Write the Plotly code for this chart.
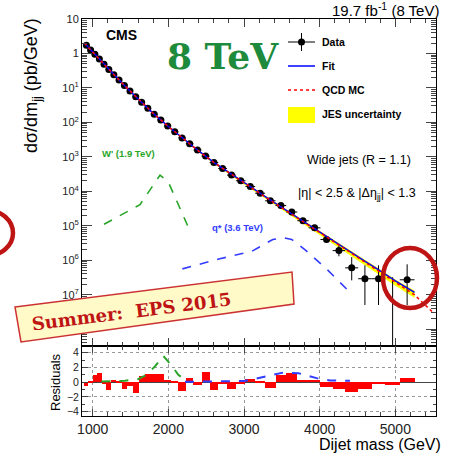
import plotly.graph_objects as go

# ---------------- data ----------------
bin_edges = [890, 944, 1000, 1058, 1118, 1181, 1246, 1313, 1383, 1455, 1530, 1607, 1687,
             1770, 1856, 1945, 2037, 2132, 2231, 2332, 2438, 2546, 2659, 2775, 2895, 3019,
             3147, 3279, 3416, 3558, 3704, 3854, 4010, 4171, 4337, 4509, 4686, 4869, 5058, 5253]

data_val = [1.72, 1.27, 0.95, 0.69, 0.485, 0.344, 0.243, 0.170, 0.1168, 0.0810, 0.0555, 0.0383,
            0.0258, 0.01725, 0.01175, 0.00789, 0.00533, 0.00354, 0.00239, 0.00157, 0.00105,
            6.8e-4, 4.6e-4, 2.95e-4, 2.02e-4, 1.37e-4, 8.8e-5, 5.3e-5, 3.85e-5, 2.5e-5, 1.4e-5,
            8.7e-6, 4.0e-6, 1.9e-6, 6.0e-7, 2.9e-7, 2.9e-7, 0.0, 2.7e-7]
data_err_up = [0] * 25 + [4e-6, 3.5e-6, 2.6e-6, 2.3e-6, 1.8e-6, 1.3e-6, 1.0e-6, 6e-7, 8e-7,
                          6.3e-7, 4.2e-7, 4.2e-7, 3.2e-7, 4.9e-7]
data_err_dn = [0] * 25 + [4e-6, 3.5e-6, 2.6e-6, 2.3e-6, 1.8e-6, 1.3e-6, 1.0e-6, 5.5e-7, 6e-7,
                          3.4e-7, 2.4e-7, 2.4e-7, 0.0, 2.2e-7]

residuals = [-0.5, 0.1, 1.0, 1.2, -0.3, -1.1, 0.3, 0.05, -0.9, -0.5, -1.5, 0.8, 1.1, 1.1, 1.1,
             0.3, 0.05, -1.2, 0.6, -0.4, 1.4, -1.1, -0.2, -0.9, -0.3, 0.4, 0.2, -0.8, 0.9, 1.2,
             0.3, 0.3, -0.7, -1.0, -1.4, -1.0, -0.3, -0.4, 0.6]

fit_mass = [890, 1000, 1200, 1400, 1600, 1800, 2000, 2200, 2400, 2600, 2800, 3000, 3200, 3400,
            3600, 3800, 4000, 4200, 4400, 4600, 4800, 5000, 5253]
fit_val = [2.0, 1.10, 0.37, 0.129, 0.0479, 0.0182, 0.00759, 0.00331, 0.00148, 6.9e-4, 3.47e-4,
           1.78e-4, 9.1e-5, 4.68e-5, 2.45e-5, 1.26e-5, 6.6e-6, 3.47e-6, 1.78e-6, 9.3e-7, 4.9e-7,
           2.5e-7, 1.17e-7]
jes_up_frac = [0.02, 0.02, 0.02, 0.03, 0.03, 0.03, 0.03, 0.04, 0.04, 0.05, 0.05, 0.05, 0.06,
               0.06, 0.07, 0.07, 0.08, 0.08, 0.09, 0.10, 0.10, 0.11, 0.12]
jes_dn_frac = [0.03, 0.03, 0.04, 0.04, 0.05, 0.05, 0.06, 0.07, 0.08, 0.09, 0.10, 0.11, 0.12,
               0.13, 0.15, 0.16, 0.18, 0.20, 0.22, 0.24, 0.26, 0.28, 0.30]

qcd_mass = [890, 1000, 1200, 1400, 1600, 1800, 2000, 2200, 2400, 2600, 2800, 3000, 3200, 3400,
            3600, 3800, 4000, 4200, 4400, 4600, 4800, 5000, 5250, 5500]
qcd_val = [2.0, 1.09, 0.37, 0.130, 0.0480, 0.0183, 0.00760, 0.00330, 0.00147, 6.9e-4, 3.45e-4,
           1.76e-4, 9.0e-5, 4.6e-5, 2.4e-5, 1.23e-5, 6.4e-6, 3.3e-6, 1.7e-6, 8.7e-7, 4.5e-7,
           2.3e-7, 1.0e-7, 3.0e-8]

wprime_mass = [1150, 1625, 1780, 1890, 2000, 2150, 2285]
wprime_val = [1.1e-5, 4.1e-5, 1.3e-4, 2.95e-4, 1.85e-4, 3.5e-5, 7.1e-6]
qstar_mass = [2185, 2680, 3100, 3380, 3520, 3630, 3820, 4090, 4400]
qstar_val = [5.6e-7, 1.1e-6, 1.8e-6, 4.0e-6, 4.5e-6, 4.0e-6, 1.9e-6, 5.6e-7, 1.17e-7]

wprime_res_mass = [1115, 1427, 1603, 1713, 1823, 1933, 2044, 2131, 2219]
wprime_res = [0.09, 0.18, 0.41, 1.0, 2.13, 3.57, 2.22, 1.0, 0.32]
qstar_res_mass = [2219, 2600, 3000, 3080, 3300, 3520, 3720, 3960, 4135, 4400]
qstar_res = [0.05, 0.05, 0.15, 0.3, 0.77, 1.3, 1.2, 0.54, 0.23, 0.18]

y_tick_vals = [10, 1, 1e-1, 1e-2, 1e-3, 1e-4, 1e-5, 1e-6, 1e-7, 1e-8]
y_tick_text = ["10", "1", "10<sup>1</sup>", "10<sup>2</sup>", "10<sup>3</sup>", "10<sup>4</sup>",
               "10<sup>5</sup>", "10<sup>6</sup>", "10<sup>7</sup>", "10<sup>8</sup>"]
x_tick_vals = [1000, 2000, 3000, 4000, 5000]
res_tick_vals = [-4, -2, 0, 2, 4]

# ---------------- derived ----------------
centers = [(a + b) / 2 for a, b in zip(bin_edges[:-1], bin_edges[1:])]
widths = [b - a for a, b in zip(bin_edges[:-1], bin_edges[1:])]
halfw = [w / 2 for w in widths]
pos = [i for i, v in enumerate(data_val) if v > 0]
zero = [i for i, v in enumerate(data_val) if v <= 0]

W, H = 452, 456
L, R, T, B = 82, 16, 19, 40
PW, PH = W - L - R, H - T - B
split = (416 - 346) / PH


def px(x):
    return (x - L) / PW


def py(y):
    return (H - B - y) / PH


RED = "rgb(190,20,20)"
GREEN = "rgb(40,165,40)"
BLUE = "rgb(50,60,255)"

fig = go.Figure()

# JES band
band_hi = [v * (1 + u) for v, u in zip(fit_val, jes_up_frac)]
band_lo = [v * (1 - d) for v, d in zip(fit_val, jes_dn_frac)]
fig.add_trace(go.Scatter(x=fit_mass + fit_mass[::-1], y=band_hi + band_lo[::-1], fill="toself",
                         fillcolor="#ffff00", line=dict(width=0), mode="lines",
                         xaxis="x", yaxis="y", hoverinfo="skip"))
# data
fig.add_trace(go.Scatter(
    x=[centers[i] for i in pos], y=[data_val[i] for i in pos], mode="markers",
    marker=dict(color="black", size=7),
    error_x=dict(type="data", array=[halfw[i] for i in pos], color="black", thickness=1, width=0),
    error_y=dict(type="data", array=[data_err_up[i] for i in pos],
                 arrayminus=[data_err_dn[i] for i in pos], symmetric=False,
                 color="black", thickness=1, width=0),
    xaxis="x", yaxis="y"))
for i in zero:
    fig.add_trace(go.Scatter(x=[centers[i], centers[i]], y=[1e-12, data_err_up[i]], mode="lines",
                             line=dict(color="black", width=1), xaxis="x", yaxis="y"))
# fit, QCD
fig.add_trace(go.Scatter(x=fit_mass, y=fit_val, mode="lines", line=dict(color="#0000ff", width=1.5),
                         xaxis="x", yaxis="y"))
fig.add_trace(go.Scatter(x=qcd_mass, y=qcd_val, mode="lines",
                         line=dict(color="#ff0000", width=1.5, dash="dot"), xaxis="x", yaxis="y"))
# signals
fig.add_trace(go.Scatter(x=wprime_mass, y=wprime_val, mode="lines",
                         line=dict(color=GREEN, width=1.6, dash="dash"), xaxis="x", yaxis="y"))
fig.add_trace(go.Scatter(x=qstar_mass, y=qstar_val, mode="lines",
                         line=dict(color=BLUE, width=1.6, dash="dash"), xaxis="x", yaxis="y"))

# residuals
fig.add_trace(go.Bar(x=centers, y=residuals, width=widths, marker=dict(color="#ff0000", line=dict(width=0)),
                     xaxis="x2", yaxis="y2"))
fig.add_trace(go.Scatter(x=wprime_res_mass, y=wprime_res, mode="lines",
                         line=dict(color=GREEN, width=2, dash="dash"), xaxis="x2", yaxis="y2"))
fig.add_trace(go.Scatter(x=qstar_res_mass, y=qstar_res, mode="lines",
                         line=dict(color=BLUE, width=2, dash="dash"), xaxis="x2", yaxis="y2"))

xr = [858.6, 5537]
fig.update_layout(
    width=W, height=H, margin=dict(l=L, r=R, t=T, b=B), showlegend=False,
    paper_bgcolor="white", plot_bgcolor="white", bargap=0,
    font=dict(family="Liberation Sans, Arial", color="black"),
    xaxis=dict(domain=[0, 1], anchor="y", range=xr, showticklabels=False, ticks="inside",
               ticklen=8, tickvals=x_tick_vals, mirror="allticks", showline=True, linecolor="black",
               linewidth=1, showgrid=False, zeroline=False,
               minor=dict(ticks="inside", ticklen=4, dtick=200, tick0=0, showgrid=False)),
    yaxis=dict(domain=[split, 1], anchor="x", type="log", range=[-8.49, 1.0], tickmode="array",
               tickvals=y_tick_vals, ticktext=y_tick_text, ticks="inside", ticklen=10,
               mirror="allticks", showline=True, linecolor="black", linewidth=1, showgrid=False,
               tickfont=dict(size=11, color="#222"), zeroline=False,
               minor=dict(ticks="inside", ticklen=5, showgrid=False,
                          tickvals=[m * 10 ** e for e in range(-9, 1) for m in range(2, 10)])),
    xaxis2=dict(domain=[0, 1], anchor="y2", range=xr, tickvals=x_tick_vals, ticks="inside",
                ticklen=7, mirror="allticks", showline=True, linecolor="black", linewidth=1,
                showgrid=True, gridcolor="#999", griddash="dot", gridwidth=1, zeroline=False,
                tickfont=dict(size=14, color="#222"),
                minor=dict(ticks="inside", ticklen=4, dtick=200, tick0=0, showgrid=False)),
    yaxis2=dict(domain=[0, split], anchor="x2", range=[-4.6, 4.9], tickvals=res_tick_vals,
                ticks="inside", ticklen=6, mirror="allticks", showline=True, linecolor="black",
                linewidth=1, showgrid=True, gridcolor="#999", griddash="dot", gridwidth=1,
                zeroline=True, zerolinecolor="#444", zerolinewidth=1,
                tickfont=dict(size=10.5, color="#222"),
                minor=dict(ticks="inside", ticklen=3, dtick=1, showgrid=False)),
)

shapes = []
# legend symbols
shapes.append(dict(type="line", xref="paper", yref="paper", x0=px(288), x1=px(315), y0=py(42), y1=py(42),
                   line=dict(color="black", width=1)))
shapes.append(dict(type="line", xref="paper", yref="paper", x0=px(301.5), x1=px(301.5), y0=py(33), y1=py(51),
                   line=dict(color="black", width=1)))
shapes.append(dict(type="circle", xref="paper", yref="paper", x0=px(298), x1=px(305), y0=py(45.5), y1=py(38.5),
                   fillcolor="black", line=dict(color="black", width=0)))
shapes.append(dict(type="line", xref="paper", yref="paper", x0=px(288), x1=px(315), y0=py(66), y1=py(66),
                   line=dict(color="#0000ff", width=1.5)))
shapes.append(dict(type="line", xref="paper", yref="paper", x0=px(288), x1=px(315), y0=py(90), y1=py(90),
                   line=dict(color="#ff0000", width=1.5, dash="dot")))
shapes.append(dict(type="rect", xref="paper", yref="paper", x0=px(288), x1=px(315), y0=py(123), y1=py(107),
                   fillcolor="#ffff00", line=dict(width=0)))
# banner
pts = [(15, 307), (292, 272), (294, 304), (21, 342)]
path = "M " + " L ".join(f"{px(a):.5f},{py(b):.5f}" for a, b in pts) + " Z"
shapes.append(dict(type="path", xref="paper", yref="paper", path=path,
                   fillcolor="rgb(255,250,200)", line=dict(color="rgb(205,50,50)", width=1.5)))
# red circles
shapes.append(dict(type="circle", xref="paper", yref="paper", x0=px(383), x1=px(437), y0=py(308), y1=py(248),
                   line=dict(color=RED, width=4.5)))
shapes.append(dict(type="circle", xref="paper", yref="paper", x0=px(-40), x1=px(13), y0=py(256), y1=py(210),
                   line=dict(color=RED, width=4.5)))
fig.update_layout(shapes=shapes)


def ann(text, x, y, size, color="black", bold=False, family="Liberation Sans, Arial",
        xanchor="center", angle=0):
    return dict(text=text, x=px(x), y=py(y), xref="paper", yref="paper", showarrow=False,
                xanchor=xanchor, yanchor="middle", textangle=angle,
                font=dict(size=size, color=color, family=family, weight="bold" if bold else "normal"))


annots = [
    ann("CMS", 121, 35, 14, bold=True),
    ann("8 TeV", 223, 56, 36, color="#1e8a3c", bold=True, family="DejaVu Serif"),
    ann("19.7 fb<sup>-1</sup> (8 TeV)", 441, 10, 15, xanchor="right"),
    ann("Data", 320, 42, 10.5, bold=True, xanchor="left"),
    ann("Fit", 320, 66, 10.5, bold=True, xanchor="left"),
    ann("QCD MC", 320, 90, 10.5, bold=True, xanchor="left"),
    ann("JES uncertainty", 320, 114, 10.5, bold=True, xanchor="left"),
    ann("Wide jets (R = 1.1)", 359, 160, 12.5),
    ann("|η| &lt; 2.5 &amp; |Δη<sub>jj</sub>| &lt; 1.3", 357, 194, 12.5),
    ann("W' (1.9 TeV)", 128, 153, 9.5, color=GREEN, bold=True),
    ann("q* (3.6 TeV)", 237, 227, 9.5, color=BLUE, bold=True),
    ann("dσ/dm<sub>jj</sub> (pb/GeV)", 33, 86, 18, angle=-90),
    ann("Residuals", 55, 382, 13, angle=-90),
    ann("Dijet mass (GeV)", 443, 444, 16, xanchor="right"),
    ann("Summer:\u00a0 EPS 2015", 131, 311, 18, color=RED, bold=True, family="DejaVu Serif", angle=-7.2),
]
fig.update_layout(annotations=annots)

fig.write_html("out.html", config={"displayModeBar": False},
               post_script="document.body.style.margin='0';document.body.style.overflow='hidden';")
